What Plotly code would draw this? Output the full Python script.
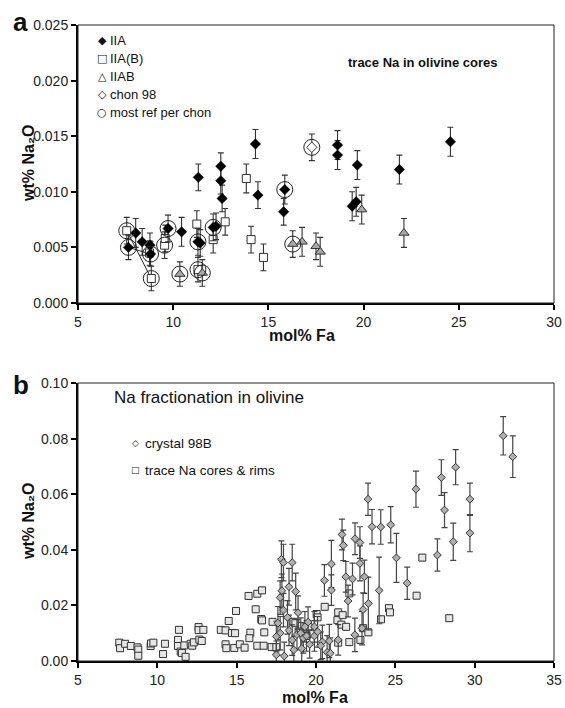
import plotly.graph_objects as go

# ---------------- Panel a data: (mol% Fa, wt% Na2O, error) ----------------
iia_pts = [
    (7.65, 0.0050, 0.0011), (8.03, 0.0063, 0.0013), (8.37, 0.0055, 0.0012),
    (8.78, 0.0052, 0.0011), (8.81, 0.0044, 0.0011), (9.73, 0.0067, 0.0012),
    (10.44, 0.0064, 0.0013), (11.32, 0.0113, 0.0012), (11.30, 0.0055, 0.0012),
    (11.42, 0.0054, 0.0012), (12.10, 0.0068, 0.0012), (12.25, 0.0069, 0.0012),
    (12.50, 0.0123, 0.0012), (12.50, 0.0110, 0.0012), (12.57, 0.0094, 0.0012),
    (14.32, 0.0143, 0.0013), (14.45, 0.0097, 0.0012), (15.86, 0.0102, 0.0013),
    (15.80, 0.0082, 0.0012), (18.63, 0.0142, 0.0013), (18.63, 0.0133, 0.0013),
    (19.67, 0.0124, 0.0013), (19.40, 0.0087, 0.0013), (19.61, 0.0091, 0.0013),
    (21.88, 0.0120, 0.0013), (24.56, 0.0145, 0.0013),
]
iiab_sq_pts = [  # IIA(B)
    (7.56, 0.0065, 0.0012), (8.85, 0.0022, 0.0011), (8.76, 0.0045, 0.0011),
    (9.55, 0.0052, 0.0012), (9.58, 0.0058, 0.0012), (11.24, 0.0071, 0.0012),
    (11.30, 0.0030, 0.0011), (12.10, 0.0057, 0.0012), (12.73, 0.0073, 0.0012),
    (13.84, 0.0112, 0.0013), (14.09, 0.0057, 0.0012), (14.74, 0.0041, 0.0012),
]
iiab_tri_pts = [  # IIAB
    (10.35, 0.0026, 0.0011), (11.53, 0.0027, 0.0012), (16.28, 0.0053, 0.0012),
    (16.77, 0.0055, 0.0013), (17.50, 0.0051, 0.0012), (17.72, 0.0046, 0.0013),
    (19.90, 0.0084, 0.0013), (22.12, 0.0063, 0.0013),
]
chon_pts = [(17.28, 0.0140, 0.0012)]
ref_pts = [  # most ref per chon (circled)
    (7.56, 0.0065), (7.65, 0.0050), (8.85, 0.0022), (8.81, 0.0044),
    (9.55, 0.0052), (9.73, 0.0067), (10.35, 0.0026), (11.30, 0.0055),
    (11.30, 0.0030), (11.53, 0.0027), (12.10, 0.0068), (15.86, 0.0102),
    (16.28, 0.0053), (17.28, 0.0140),
]
tie_lines = [((7.56, 0.0065), (8.85, 0.0022)), ((7.65, 0.0050), (8.81, 0.0044))]

# ---------------- Panel b data ----------------
cryst_pts = [
    (31.8, 0.0810, 0.0069), (32.4, 0.0735, 0.0075), (27.9, 0.0660, 0.0064),
    (28.8, 0.0697, 0.0063), (28.1, 0.0543, 0.0063), (29.7, 0.0582, 0.0058),
    (29.7, 0.0460, 0.0067), (28.65, 0.0429, 0.0067), (27.65, 0.0381, 0.0058),
    (26.3, 0.0618, 0.0065), (23.28, 0.0582, 0.0058), (23.53, 0.0483, 0.0062),
    (24.08, 0.0482, 0.0062), (24.71, 0.0490, 0.0065), (25.07, 0.0371, 0.0088),
    (25.75, 0.0280, 0.0058), (21.64, 0.0455, 0.0055), (21.72, 0.0416, 0.0055),
    (22.46, 0.0440, 0.0057), (22.77, 0.0426, 0.0057), (22.77, 0.0351, 0.0063),
    (23.05, 0.0303, 0.0060), (21.88, 0.0303, 0.0055), (22.30, 0.0295, 0.0057),
    (20.97, 0.0349, 0.0085), (20.97, 0.0255, 0.0055), (20.53, 0.0290, 0.0057),
    (22.02, 0.0216, 0.0057), (23.98, 0.0254, 0.0120), (23.30, 0.0207, 0.0095),
    (22.97, 0.0185, 0.0060), (22.90, 0.0118, 0.0060), (22.45, 0.0094, 0.0060),
    (20.40, 0.0069, 0.0060), (20.84, 0.0072, 0.0060), (20.70, 0.0031, 0.0060),
    (20.90, 0.0028, 0.0055), (21.40, 0.0076, 0.0055), (17.82, 0.0366, 0.0066),
    (17.95, 0.0354, 0.0066), (18.50, 0.0354, 0.0066), (18.30, 0.0267, 0.0066),
    (18.72, 0.0250, 0.0066), (17.85, 0.0253, 0.0060), (17.74, 0.0228, 0.0060),
    (17.95, 0.0183, 0.0060), (17.60, 0.0136, 0.0060), (18.20, 0.0157, 0.0060),
    (18.87, 0.0174, 0.0060), (17.74, 0.0100, 0.0060), (17.50, 0.0088, 0.0055),
    (17.50, 0.0022, 0.0050), (18.00, 0.0018, 0.0050), (18.30, 0.0110, 0.0055),
    (18.50, 0.0075, 0.0055), (18.80, 0.0095, 0.0055), (19.04, 0.0100, 0.0055),
    (19.30, 0.0123, 0.0055), (19.20, 0.0083, 0.0055), (19.40, 0.0090, 0.0055),
    (19.60, 0.0060, 0.0050), (19.90, 0.0123, 0.0055), (19.90, 0.0090, 0.0055),
    (19.10, 0.0045, 0.0050), (18.60, 0.0040, 0.0050), (19.50, 0.0140, 0.0055),
    (20.10, 0.0105, 0.0055), (20.30, 0.0055, 0.0050),
]
trace_pts = [
    (7.6, 0.0066), (7.65, 0.0046), (7.97, 0.0062), (8.33, 0.0054), (8.75, 0.0049),
    (8.8, 0.0041), (8.8, 0.0019), (9.58, 0.0054), (9.6, 0.0063), (9.75, 0.0066),
    (10.48, 0.0062), (10.36, 0.0025), (11.36, 0.0112), (11.3, 0.0076), (11.3, 0.0054),
    (11.47, 0.0034), (11.55, 0.0029), (11.78, 0.0015), (11.7, 0.0056), (12.1, 0.0062),
    (12.2, 0.0055), (12.3, 0.0067), (12.6, 0.0122), (12.6, 0.0111), (12.9, 0.0112),
    (12.65, 0.0077), (12.8, 0.0072), (14.0, 0.0112), (14.3, 0.0110), (14.5, 0.0144),
    (14.7, 0.0101), (14.9, 0.0100), (14.96, 0.0180), (14.3, 0.0060), (14.35, 0.0046),
    (14.85, 0.0047), (15.2, 0.0060), (15.75, 0.0234), (16.3, 0.0242), (16.6, 0.0254),
    (16.2, 0.0186), (16.55, 0.0151), (16.6, 0.0146), (17.26, 0.0141), (15.86, 0.0102),
    (15.8, 0.0082), (16.74, 0.0103), (15.5, 0.0048), (16.3, 0.0055), (16.7, 0.0055),
    (17.2, 0.0050), (17.5, 0.0050), (18.58, 0.0141), (18.7, 0.0136), (19.1, 0.0126),
    (19.52, 0.0123), (19.2, 0.0100), (19.73, 0.0099), (20.04, 0.0169), (20.1, 0.0157),
    (18.9, 0.0106), (19.4, 0.0090), (20.55, 0.0195), (21.4, 0.0175), (21.35, 0.0147),
    (21.6, 0.0131), (21.68, 0.0165), (21.9, 0.0123), (22.1, 0.0243), (22.97, 0.0118),
    (23.3, 0.0103), (21.4, 0.0066), (22.1, 0.0068), (22.8, 0.0076), (24.1, 0.0150),
    (24.6, 0.0190), (24.66, 0.0175), (26.34, 0.0235), (26.7, 0.0372), (28.4, 0.0154),
]
trace_err = 0.0011

xticks_a = [5, 10, 15, 20, 25, 30]
yticks_a = [0.000, 0.005, 0.010, 0.015, 0.020, 0.025]
xticks_b = [5, 10, 15, 20, 25, 30, 35]
yticks_b = [0.00, 0.02, 0.04, 0.06, 0.08, 0.10]

# ---------------- figure geometry ----------------
W, H = 565, 708
ML, MR, MT, MB = 78, 11, 25, 47
PW, PH = W - ML - MR, H - MT - MB


def px(xp):
    return (xp - ML) / PW


def py(yp):
    return (H - MB - yp) / PH


FONT = "Liberation Sans, Arial, sans-serif"
SYM = "DejaVu Sans, sans-serif"
EB = dict(type="data", color="#333333", thickness=1.1, width=3)

fig = go.Figure()


def col(pts, i):
    return [p[i] for p in pts]


# tie lines
for (a, b) in tie_lines:
    fig.add_trace(go.Scatter(x=[a[0], b[0]], y=[a[1], b[1]], mode="lines",
                             line=dict(color="#222", width=1), showlegend=False,
                             hoverinfo="skip", xaxis="x", yaxis="y"))

fig.add_trace(go.Scatter(
    x=col(iiab_sq_pts, 0), y=col(iiab_sq_pts, 1), mode="markers", name="IIA(B)",
    marker=dict(symbol="square", size=8, color="white", line=dict(color="#333", width=1)),
    error_y=dict(array=col(iiab_sq_pts, 2), **EB), xaxis="x", yaxis="y"))
fig.add_trace(go.Scatter(
    x=col(iiab_tri_pts, 0), y=col(iiab_tri_pts, 1), mode="markers", name="IIAB",
    marker=dict(symbol="triangle-up", size=9, color="#a8a8a8", line=dict(color="#333", width=1)),
    error_y=dict(array=col(iiab_tri_pts, 2), **EB), xaxis="x", yaxis="y"))
fig.add_trace(go.Scatter(
    x=col(iia_pts, 0), y=col(iia_pts, 1), mode="markers", name="IIA",
    marker=dict(symbol="diamond", size=8, color="black", line=dict(color="black", width=0.5)),
    error_y=dict(array=col(iia_pts, 2), **EB), xaxis="x", yaxis="y"))
fig.add_trace(go.Scatter(
    x=col(chon_pts, 0), y=col(chon_pts, 1), mode="markers", name="chon 98",
    marker=dict(symbol="diamond", size=8, color="white", line=dict(color="#333", width=1)),
    error_y=dict(array=col(chon_pts, 2), **EB), xaxis="x", yaxis="y"))
fig.add_trace(go.Scatter(
    x=col(ref_pts, 0), y=col(ref_pts, 1), mode="markers", name="most ref per chon",
    marker=dict(symbol="circle-open", size=16, color="#222", line=dict(width=1)),
    xaxis="x", yaxis="y"))

# panel b
fig.add_trace(go.Scatter(
    x=col(trace_pts, 0), y=col(trace_pts, 1), mode="markers", name="trace Na cores & rims",
    marker=dict(symbol="square", size=7, color="#e6e6e6", line=dict(color="#333", width=1)),
    error_y=dict(type="constant", value=trace_err, color="#333", thickness=1, width=2),
    xaxis="x2", yaxis="y2"))
fig.add_trace(go.Scatter(
    x=col(cryst_pts, 0), y=col(cryst_pts, 1), mode="markers", name="crystal 98B",
    marker=dict(symbol="diamond", size=6, color="#b0b0b0", line=dict(color="#333", width=1)),
    error_y=dict(array=col(cryst_pts, 2), color="#444", thickness=1.2, width=3, type="data"),
    xaxis="x2", yaxis="y2"))

axis_common = dict(showline=True, linewidth=2, linecolor="black", mirror=False,
                   ticks="outside", ticklen=5, tickwidth=1.5, tickcolor="black",
                   showgrid=False, zeroline=False, automargin=False,
                   tickfont=dict(family=FONT, size=14, color="#222"))

yb_top = py(383)
ya_bot = py(303)

fig.update_layout(
    width=W, height=H, margin=dict(l=ML, r=MR, t=MT, b=MB),
    paper_bgcolor="white", plot_bgcolor="white", showlegend=False,
    font=dict(family=FONT, color="#222"),
    xaxis=dict(domain=[0, 1], anchor="y", range=[5, 30], tickvals=xticks_a, **axis_common),
    yaxis=dict(domain=[ya_bot, 1], anchor="x", range=[0, 0.025], tickvals=yticks_a,
               tickformat=".3f", **axis_common),
    xaxis2=dict(domain=[0, 1], anchor="y2", range=[5, 35], tickvals=xticks_b, **axis_common),
    yaxis2=dict(domain=[0, yb_top], anchor="x2", range=[0, 0.10], tickvals=yticks_b,
                tickformat=".2f", **axis_common),
)

for xr, yr in (("x", "y"), ("x2", "y2")):
    fig.add_shape(type="rect", xref=f"{xr} domain", yref=f"{yr} domain",
                  x0=0, x1=1, y0=0, y1=1, line=dict(color="#222", width=1), layer="above")

ann = []


def add_text(text, xp, yp, size, bold=False, xanchor="left", family=FONT, angle=0):
    t = f"<b>{text}</b>" if bold else text
    ann.append(dict(text=t, x=px(xp), y=py(yp), xref="paper", yref="paper",
                    xanchor=xanchor, yanchor="middle", showarrow=False,
                    textangle=angle, font=dict(family=family, size=size, color="#111")))


# panel labels
add_text("a", 20, 22, 26, bold=True, xanchor="center")
add_text("b", 21, 385, 26, bold=True, xanchor="center")

# axis titles
add_text("wt% Na₂O", 28, 164, 16, bold=True, xanchor="center", angle=-90)
add_text("wt% Na₂O", 28, 522, 16, bold=True, xanchor="center", angle=-90)
add_text("mol% Fa", 302, 336, 16, bold=True, xanchor="center")
add_text("mol% Fa", 315, 697, 16, bold=True, xanchor="center")

# panel a legend
leg_a = [("◆", "IIA"), ("□", "IIA(B)"), ("△", "IIAB"), ("◇", "chon 98"), ("○", "most ref per chon")]
for i, (s, t) in enumerate(leg_a):
    yp = 40 + 18 * i
    add_text(s, 102, yp, 11, xanchor="center", family=SYM)
    add_text(t, 108, yp, 13)
add_text("trace Na in olivine cores", 346, 63, 13, bold=True)

# panel b legend
leg_b = [("◇", "crystal 98B", 443), ("□", "trace Na cores & rims", 470)]
for s, t, yp in leg_b:
    add_text(s, 135, yp, 9, xanchor="center", family=SYM)
    add_text(t, 143, yp, 13.5)
add_text("Na fractionation in olivine", 112, 397, 17)

fig.update_layout(annotations=ann)
fig.write_html("out.html")
